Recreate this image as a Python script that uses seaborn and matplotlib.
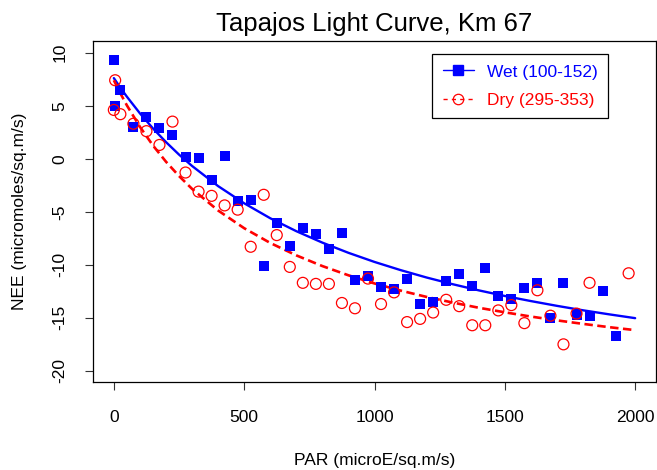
import numpy as np
import pandas as pd
import matplotlib
matplotlib.use("Agg")
import matplotlib.pyplot as plt
from matplotlib.lines import Line2D
import seaborn as sns

# ---------------- data ----------------
wet_par = [0, 5, 25, 75, 125, 175, 225, 275, 325, 375, 425, 475, 525, 575, 625,
           675, 725, 775, 825, 875, 925, 975, 1025, 1075, 1125, 1175, 1225, 1275,
           1325, 1375, 1425, 1475, 1525, 1575, 1625, 1675, 1725, 1775, 1825, 1875, 1925]
wet_nee = [9.3, 5.0, 6.5, 3.0, 3.9, 2.9, 2.2, 0.2, 0.1, -2.0, 0.3, -4.0, -3.9, -10.1, -6.1,
           -8.2, -6.5, -7.1, -8.5, -7.0, -11.4, -11.1, -12.1, -12.3, -11.3, -13.7, -13.5, -11.5,
           -10.9, -12.0, -10.3, -12.9, -13.2, -12.2, -11.7, -15.0, -11.7, -14.7, -14.8, -12.5, -16.7]

dry_par = [0, 5, 25, 75, 125, 175, 225, 275, 325, 375, 425, 475, 525, 575, 625,
           675, 725, 775, 825, 875, 925, 975, 1025, 1075, 1125, 1175, 1225, 1275,
           1325, 1375, 1425, 1475, 1525, 1575, 1625, 1675, 1725, 1775, 1825, 1975]
dry_nee = [4.6, 7.4, 4.2, 3.3, 2.6, 1.3, 3.5, -1.3, -3.1, -3.5, -4.4, -4.8, -8.3, -3.4, -7.2,
           -10.2, -11.7, -11.8, -11.8, -13.6, -14.1, -11.3, -13.7, -12.6, -15.4, -15.1, -14.5, -13.3,
           -13.9, -15.7, -15.7, -14.3, -13.8, -15.5, -12.4, -14.8, -17.5, -14.6, -11.7, -10.8]

# fitted light-curve lines
curve_par = [0, 25, 50, 100, 150, 200, 250, 300, 400, 500, 600, 700, 800, 900, 1000,
             1100, 1200, 1300, 1400, 1500, 1600, 1700, 1800, 1900, 2000]
wet_curve = [7.6, 6.7, 5.85, 4.28, 2.86, 1.57, 0.39, -0.68, -2.58, -4.20, -5.61, -6.83, -7.91,
             -8.87, -9.73, -10.50, -11.20, -11.83, -12.41, -12.94, -13.42, -13.87, -14.29,
             -14.67, -15.03]
dry_curve = [7.4, 6.17, 5.03, 3.01, 1.25, -0.28, -1.63, -2.84, -4.88, -6.55, -7.94, -9.11,
             -10.12, -10.99, -11.76, -12.43, -13.03, -13.56, -14.05, -14.48, -14.88, -15.24,
             -15.57, -15.88, -16.16]

labels = ["Wet (100-152)", "Dry (295-353)"]
title = "Tapajos Light Curve, Km 67"
xlabel = "PAR (microE/sq.m/s)"
ylabel = "NEE (micromoles/sq.m/s)"
xticks = [0, 500, 1000, 1500, 2000]
yticks = [-20, -15, -10, -5, 0, 5, 10]

BLUE = "#0000FF"
RED = "#FF0000"

# ---------------- style ----------------
sns.set_style("ticks")
plt.rcParams["font.family"] = ["Liberation Sans", "DejaVu Sans"]
plt.rcParams["axes.linewidth"] = 0.9
plt.rcParams["axes.edgecolor"] = "black"
plt.rcParams["text.color"] = "black"
plt.rcParams["axes.labelcolor"] = "black"
plt.rcParams["xtick.color"] = "black"
plt.rcParams["ytick.color"] = "black"

fig = plt.figure(figsize=(6.57, 4.70), dpi=100)
ax = fig.add_axes([93 / 657, 1 - 382 / 470, (656 - 93) / 657, (382 - 41) / 470])

wet_df = pd.DataFrame({"PAR": wet_par, "NEE": wet_nee})
dry_df = pd.DataFrame({"PAR": dry_par, "NEE": dry_nee})
wcurve_df = pd.DataFrame({"PAR": curve_par, "NEE": wet_curve})
dcurve_df = pd.DataFrame({"PAR": curve_par, "NEE": dry_curve})

sns.lineplot(data=wcurve_df, x="PAR", y="NEE", ax=ax, color=BLUE, linewidth=1.7,
             sort=True, zorder=2)
sns.lineplot(data=dcurve_df, x="PAR", y="NEE", ax=ax, color=RED, linewidth=1.9,
             linestyle=(0, (3.2, 1.7)), sort=True, zorder=2)

sns.scatterplot(data=wet_df, x="PAR", y="NEE", ax=ax, marker="s", color=BLUE,
                edgecolor=BLUE, linewidth=0, s=52, zorder=3)
sns.scatterplot(data=dry_df, x="PAR", y="NEE", ax=ax, marker="o", color=RED,
                facecolor="none", edgecolor=RED, linewidth=0.9, s=62, zorder=3)
ax.collections[-1].set_facecolor("none")

ax.set_xlim(-80, 2080)
ax.set_ylim(-21.05, 11.1)
ax.set_xticks(xticks)
ax.set_yticks(yticks)
ax.set_xticklabels([str(v) for v in xticks])
ax.set_yticklabels([str(v) for v in yticks])
ax.tick_params(direction="out", length=5.5, width=0.8, color="#333333",
               labelsize=12.5, labelcolor="black", pad=13)
ax.tick_params(axis="x", pad=15)
for t in ax.get_yticklabels():
    t.set_rotation(90)
    t.set_va("center")
    t.set_ha("right")

for s in ax.spines.values():
    s.set_visible(True)
    s.set_color("black")

ax.set_xlabel(xlabel, fontsize=12.5, va="center", color="black")
ax.xaxis.set_label_coords(0.5, (382 - 460) / 341)
ax.set_ylabel(ylabel, fontsize=12.5, va="center", color="black")
ax.yaxis.set_label_coords((20 - 93) / 563, 0.5)
ax.set_title(title, fontsize=18.5, y=(382 - 24) / 341, va="center", pad=0, color="black")

handles = [
    Line2D([0], [0], color=BLUE, lw=1.0, marker="s", markersize=6.5,
           markerfacecolor=BLUE, markeredgecolor=BLUE),
    Line2D([0], [0], color=RED, lw=1.0, linestyle=(0, (3, 3)), marker="o",
           markersize=7.5, markerfacecolor="none", markeredgecolor=RED,
           markeredgewidth=0.9),
]
leg = ax.legend(handles, labels, loc="upper right", bbox_to_anchor=(0.915, 0.962),
                fontsize=12.5, frameon=True, fancybox=False, framealpha=1,
                edgecolor="black", borderpad=0.6, handlelength=1.8,
                handletextpad=0.75, labelspacing=0.75, borderaxespad=0)
leg.get_frame().set_linewidth(0.9)
leg.texts[0].set_color(BLUE)
leg.texts[1].set_color(RED)

fig.savefig("out.png", dpi=100)
